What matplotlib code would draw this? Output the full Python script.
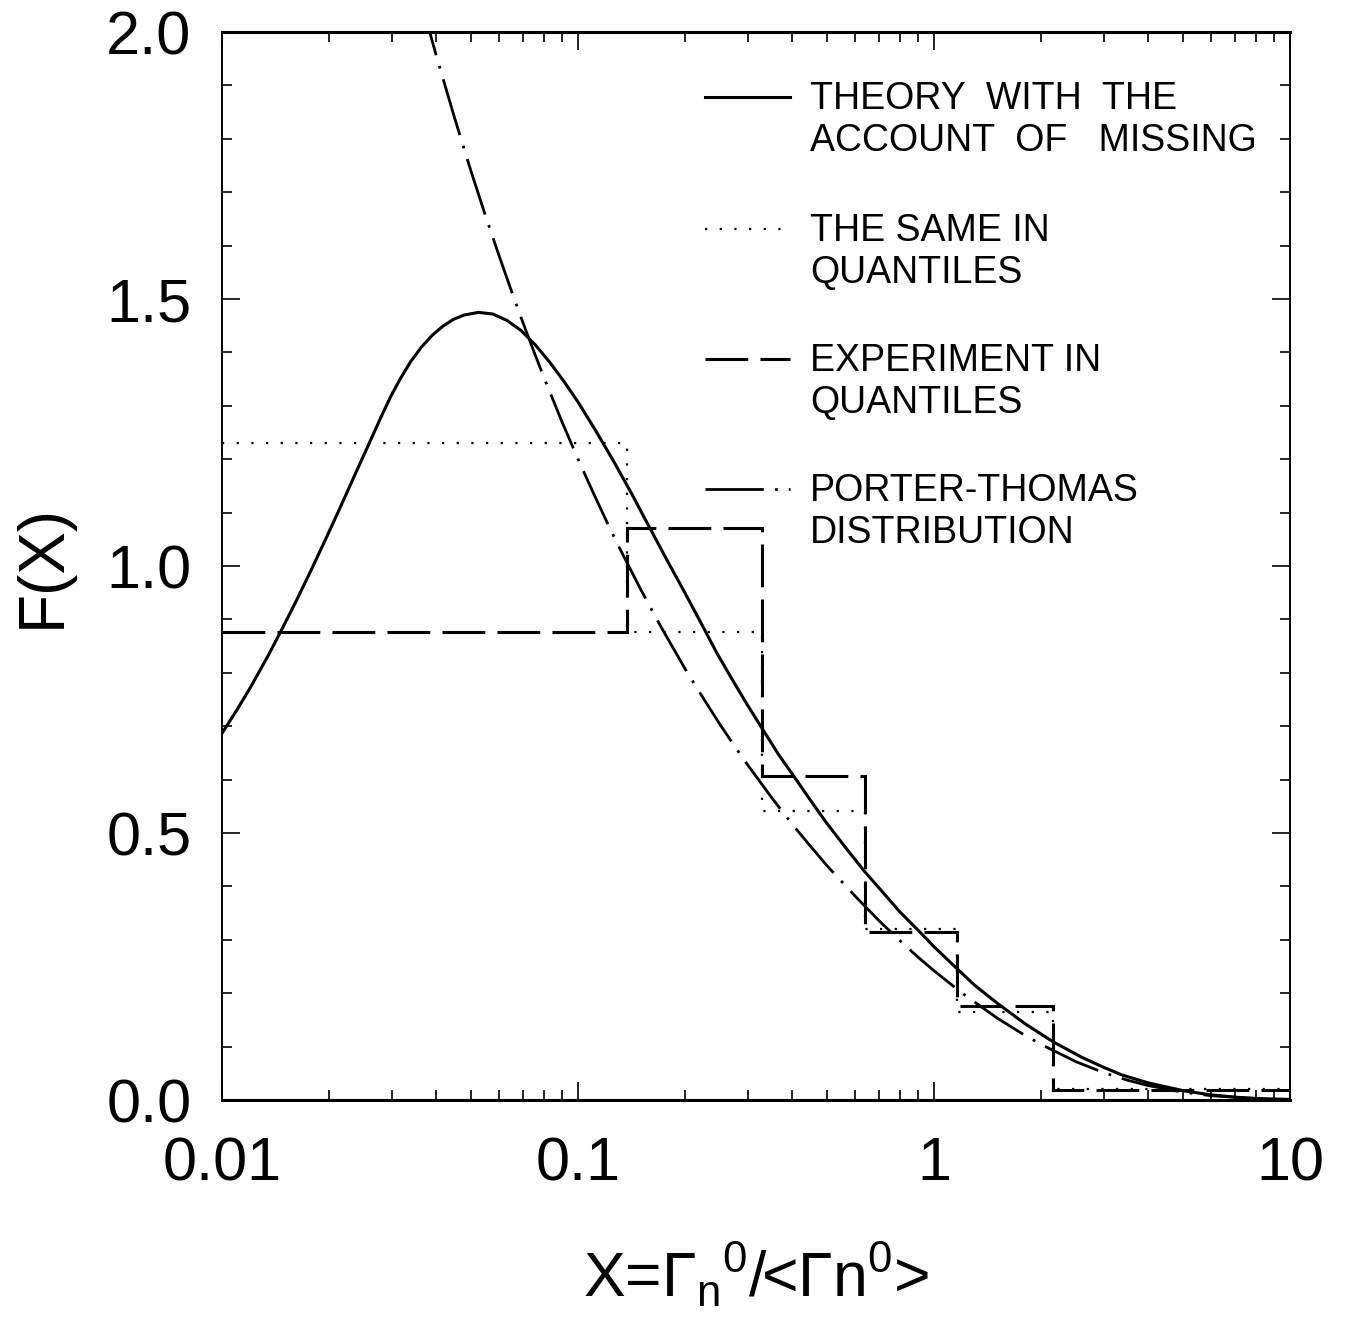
import matplotlib
matplotlib.use('Agg')
import matplotlib.pyplot as plt
from matplotlib.ticker import MultipleLocator, LogLocator, NullFormatter

plt.rcParams['font.family'] = ['Liberation Sans', 'DejaVu Sans']
plt.rcParams['mathtext.fontset'] = 'custom'
plt.rcParams['mathtext.rm'] = 'Liberation Sans'
plt.rcParams['mathtext.it'] = 'Liberation Sans'
plt.rcParams['mathtext.bf'] = 'Liberation Sans:bold'

# theory with the account of missing
x_theory = [0.0100, 0.01097, 0.01202, 0.01349, 0.01479, 0.01622, 0.01778, 0.01950, 0.02138,
            0.02399, 0.02570, 0.02818, 0.02985, 0.03162, 0.03388, 0.03631, 0.03891, 0.04169,
            0.04467, 0.04786, 0.05248, 0.05754, 0.06310, 0.06918, 0.07586, 0.08318, 0.09120,
            0.1000, 0.1122, 0.1259, 0.1413, 0.1585, 0.1778, 0.1995, 0.220, 0.245, 0.267,
            0.297, 0.328, 0.365, 0.405, 0.450, 0.500, 0.570, 0.640, 0.720, 0.800, 0.908,
            1.00, 1.16, 1.30, 1.50, 1.80, 2.16, 2.60, 3.00, 3.37, 4.00, 5.05, 6.00,
            7.00, 8.00, 10.0]
f_theory = [0.687, 0.729, 0.773, 0.833, 0.884, 0.937, 0.992, 1.049, 1.107,
            1.181, 1.225, 1.284, 1.319, 1.350, 1.383, 1.410, 1.432, 1.449,
            1.462, 1.470, 1.475, 1.472, 1.460, 1.441, 1.414, 1.382, 1.346,
            1.307, 1.253, 1.196, 1.136, 1.073, 1.011, 0.950, 0.897, 0.838, 0.795,
            0.743, 0.697, 0.648, 0.605, 0.561, 0.518, 0.469, 0.427, 0.388, 0.353, 0.316,
            0.287, 0.246, 0.215, 0.182, 0.143, 0.109, 0.080, 0.061, 0.047, 0.032, 0.017, 0.0096,
            0.0054, 0.0030, 0.0010]

# Porter-Thomas distribution
x_pt = [0.035, 0.0375, 0.04, 0.045, 0.05, 0.055, 0.06, 0.065, 0.07, 0.075, 0.08, 0.09,
        0.1, 0.11, 0.12, 0.13, 0.15, 0.17, 0.2, 0.225, 0.25, 0.275, 0.3, 0.35, 0.4, 0.45,
        0.5, 0.6, 0.7, 0.8, 0.9, 1.0, 1.2, 1.5, 1.75, 2.0, 2.5, 3.0, 3.5, 4.0, 5.0, 6.0,
        8.0, 10.0]
f_pt = [2.095, 2.022, 1.955, 1.839, 1.740, 1.655, 1.581, 1.515, 1.456, 1.403, 1.355, 1.271,
        1.200, 1.139, 1.085, 1.037, 0.956, 0.889, 0.807, 0.752, 0.704, 0.663, 0.627, 0.566,
        0.516, 0.475, 0.439, 0.382, 0.336, 0.299, 0.268, 0.242, 0.200, 0.154, 0.126, 0.104,
        0.072, 0.051, 0.037, 0.027, 0.0146, 0.0081, 0.0026, 0.0009]

# quantile bins
q_edges = [0.01, 0.137, 0.329, 0.64, 1.16, 2.16, 10.0]
q_theory = [1.230, 0.876, 0.541, 0.320, 0.165, 0.021]
q_exp = [0.876, 1.071, 0.607, 0.315, 0.176, 0.019]

x_ticks = [0.01, 0.1, 1, 10]
x_ticklabels = ['0.01', '0.1', '1', '10']
y_ticks = [0.0, 0.5, 1.0, 1.5, 2.0]

legend_labels = ['THEORY  WITH  THE\nACCOUNT  OF   MISSING',
                 'THE SAME IN\nQUANTILES',
                 'EXPERIMENT IN\nQUANTILES',
                 'PORTER-THOMAS\nDISTRIBUTION']

ls_solid = '-'
ls_dot = (0, (1, 5.6))
ls_dash = (0, (14, 4))
ls_dashdot = (0, (21, 4, 1, 4))

fig = plt.figure(figsize=(13.46, 13.18), dpi=100)
ax = fig.add_axes([0.165, 0.1654, 0.7934, 0.8103])
ax.set_xscale('log')
ax.set_xlim(0.01, 10)
ax.set_ylim(0, 2)

ax.plot(x_theory, f_theory, color='k', lw=2.2, ls=ls_solid)
ax.plot(x_pt, f_pt, color='k', lw=2.0, ls=ls_dashdot)
ax.stairs(q_theory, q_edges, baseline=None, color='k', lw=1.6, ls=ls_dot)
ax.stairs(q_exp, q_edges, baseline=None, color='k', lw=2.2, ls=ls_dash)

# legend drawn by hand so the sample sits on the first text line
styles = [(ls_solid, 2.2), (ls_dot, 1.6), (ls_dash, 2.2), ((0, (21, 4, 1, 4, 1, 4)), 2.0)]
ys = [0.939, 0.8155, 0.6938, 0.5721]
for lab, (ls, lw), y in zip(legend_labels, styles, ys):
    ax.plot([0.452, 0.532], [y, y], transform=ax.transAxes, color='k', lw=lw, ls=ls)
    for i, line in enumerate(lab.split('\n')):
        ax.text(0.5506, y - 0.002 - i * 0.0395, line, transform=ax.transAxes,
                fontsize=27, va='center', ha='left')

ax.set_xticks(x_ticks, labels=x_ticklabels)
ax.xaxis.set_minor_locator(LogLocator(base=10, subs=range(2, 10)))
ax.xaxis.set_minor_formatter(NullFormatter())
ax.set_yticks(y_ticks, labels=['%.1f' % v for v in y_ticks])
ax.yaxis.set_minor_locator(MultipleLocator(0.1))

ax.tick_params(which='both', direction='in', top=True, right=True, width=1.2)
ax.tick_params(which='major', length=13, labelsize=44)
ax.tick_params(which='minor', length=7.5)
ax.tick_params(axis='x', pad=26)
ax.tick_params(axis='y', pad=22)

for side in ['top', 'bottom']:
    ax.spines[side].set_linewidth(2.2)
for side in ['left', 'right']:
    ax.spines[side].set_linewidth(1.4)

ax.set_ylabel('F(X)', fontsize=46)
ax.yaxis.set_label_coords(-0.140, 0.5)
ax.set_xlabel(r'X=$\Gamma_n{}^0$/<$\Gamma$n$^0$>', fontsize=45, va='baseline')
ax.xaxis.set_label_coords(0.5, -0.1845)

fig.savefig('out.png', dpi=100)
